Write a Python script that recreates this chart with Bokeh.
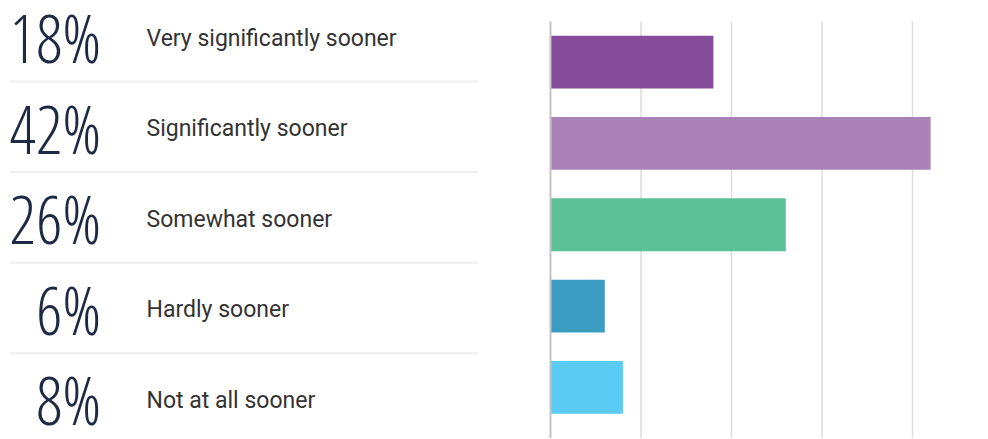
from bokeh.plotting import figure
from bokeh.models import ColumnDataSource, Range1d
from bokeh.core.properties import value
from bokeh.embed import file_html
from bokeh.resources import INLINE

# ---- data ----
categories = ["Very significantly sooner", "Significantly sooner", "Somewhat sooner",
              "Hardly sooner", "Not at all sooner"]
values = [18, 42, 26, 6, 8]
colors = ["#864c9c", "#ab82b8", "#5bc095", "#3a9dc1", "#59cbf5"]
grid_ticks = [0, 10, 20, 30, 40]

n = len(categories)
W, H = 988, 438

# pixel-space base ranges for the text panel
p = figure(width=W, height=H, x_range=Range1d(0, W), y_range=Range1d(H, 0),
           output_backend="svg", toolbar_location=None, min_border=0)
p.axis.visible = False
p.grid.visible = False
p.outline_line_color = None

# percentage scale for the bars: 0% at px 550, ~9.05 px per percent
px_per_pct = 9.05
zero_px = 550
p.extra_x_ranges = {"pct": Range1d(-zero_px / px_per_pct, (W - zero_px) / px_per_pct)}
# row scale for the bars: 81.3 px per row, first row starting at px 21
row_px = 81.3
top_px = 21
p.extra_y_ranges = {"rows": Range1d((H - top_px) / row_px, -top_px / row_px)}

# ---- left panel ----
row_h = 90.6
pct_txt = [(f"{v}%" if v >= 10 else f"\u2007{v}%") for v in values]
src_l = ColumnDataSource(dict(
    pct=pct_txt,
    lab=categories,
    nx=[9] * n,
    ny=[36.5 + row_h * i for i in range(n)],
    lx=[146] * n,
    ly=[37.5 + row_h * i for i in range(n)],
))
p.text(x="nx", y="ny", text="pct", source=src_l, text_align="left",
       text_baseline="alphabetic", text_font=value("Open Sans Condensed Light"),
       text_font_size="66px", text_color="#1e2a45")
p.text(x="lx", y="ly", text="lab", source=src_l, text_align="left",
       text_baseline="alphabetic", text_font=value("Roboto"),
       text_font_size="23px", text_color="#333333")
sep_y = [81 + row_h * i for i in range(n - 1)]
p.segment(x0=[10] * (n - 1), x1=[477] * (n - 1), y0=sep_y, y1=sep_y,
          line_color="#eeeeee", line_width=2)

# ---- right panel: grid + bars ----
g_top = [0] * len(grid_ticks)
g_bot = [(H - top_px) / row_px] * len(grid_ticks)
p.segment(x0=grid_ticks[1:], x1=grid_ticks[1:], y0=g_top[1:], y1=g_bot[1:],
          x_range_name="pct", y_range_name="rows", line_color="#dddddd", line_width=1.5)

src_r = ColumnDataSource(dict(y=[i + 0.5 for i in range(n)], v=values, c=colors))
p.hbar(y="y", left=0, right="v", height=0.65, fill_color="c", line_color=None,
       source=src_r, x_range_name="pct", y_range_name="rows")
p.segment(x0=grid_ticks[:1], x1=grid_ticks[:1], y0=g_top[:1], y1=g_bot[:1],
          x_range_name="pct", y_range_name="rows", line_color="#c4c4c4", line_width=2)

open("out.html", "w").write(file_html(p, INLINE))
